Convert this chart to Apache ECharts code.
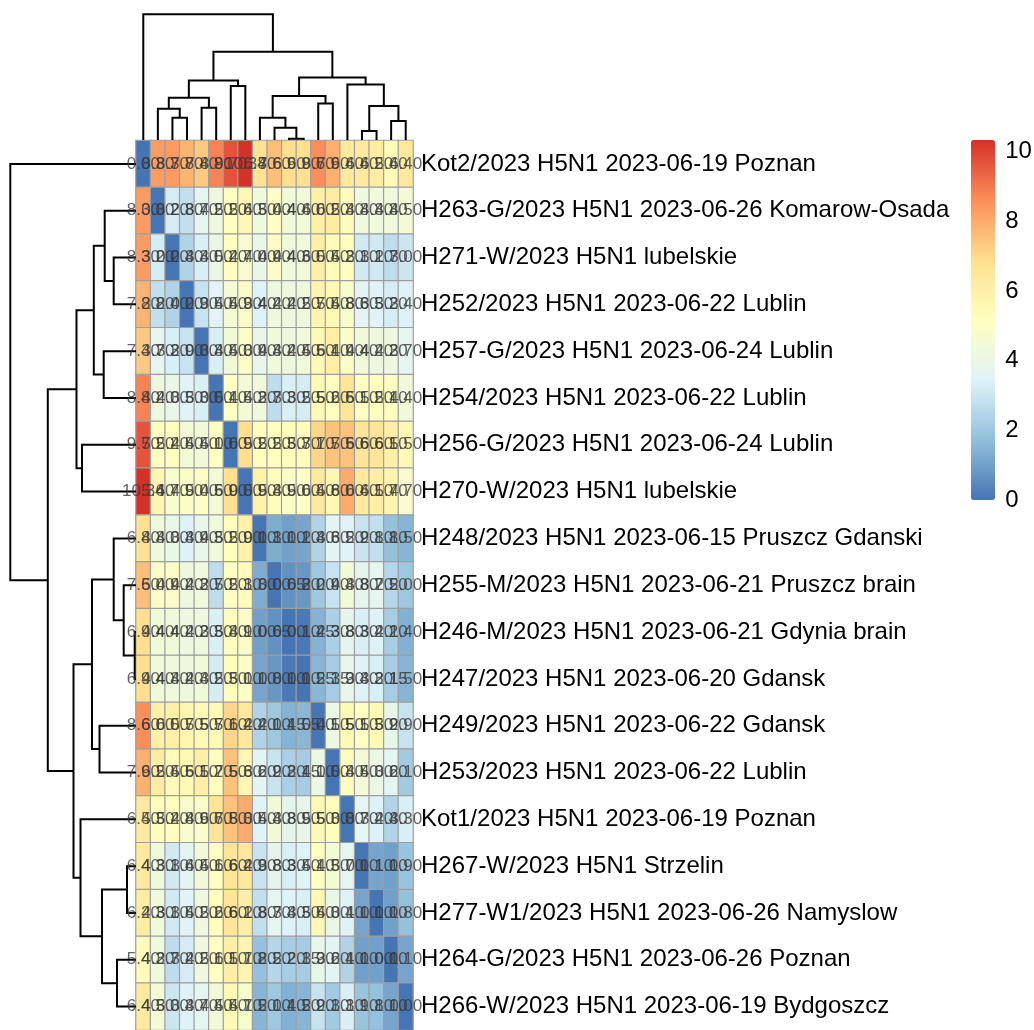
<!DOCTYPE html>
<html>
<head>
<meta charset="utf-8">
<script src="https://cdn.jsdelivr.net/npm/echarts@6/dist/echarts.min.js"></script>
<style>
  body { margin: 0; background: #fff; }
  #main { width: 1034px; height: 1030px; }
</style>
</head>
<body>
<div id="main"></div>
<script>
// samples, in the clustered display order (rows and columns use the same order)
var sampleNames = [
  "Kot2/2023 H5N1 2023-06-19 Poznan",
  "H263-G/2023 H5N1 2023-06-26 Komarow-Osada",
  "H271-W/2023 H5N1 lubelskie",
  "H252/2023 H5N1 2023-06-22 Lublin",
  "H257-G/2023 H5N1 2023-06-24 Lublin",
  "H254/2023 H5N1 2023-06-22 Lublin",
  "H256-G/2023 H5N1 2023-06-24 Lublin",
  "H270-W/2023 H5N1 lubelskie",
  "H248/2023 H5N1 2023-06-15 Pruszcz Gdanski",
  "H255-M/2023 H5N1 2023-06-21 Pruszcz brain",
  "H246-M/2023 H5N1 2023-06-21 Gdynia brain",
  "H247/2023 H5N1 2023-06-20 Gdansk",
  "H249/2023 H5N1 2023-06-22 Gdansk",
  "H253/2023 H5N1 2023-06-22 Lublin",
  "Kot1/2023 H5N1 2023-06-19 Poznan",
  "H267-W/2023 H5N1 Strzelin",
  "H277-W1/2023 H5N1 2023-06-26 Namyslow",
  "H264-G/2023 H5N1 2023-06-26 Poznan",
  "H266-W/2023 H5N1 2023-06-19 Bydgoszcz"
];

// distance matrix, upper triangle: row i holds distances to samples i+1 .. 18
var distUpper = [
  [8.3, 8.3, 7.8, 7.4, 8.8, 9.7, 10.34, 6.8, 7.6, 6.9, 6.9, 8.6, 7.9, 6.4, 6.4, 6.2, 5.4, 6.4],
  [3.2, 2.8, 3.7, 4.2, 5.2, 5.6, 4.3, 5.0, 4.4, 4.4, 6.0, 6.2, 5.3, 4.3, 4.3, 4.3, 4.5],
  [2.4, 3.3, 4.0, 5.2, 4.7, 4.0, 4.9, 4.4, 4.3, 6.0, 5.4, 5.2, 3.1, 3.1, 2.7, 3.0],
  [2.9, 3.5, 4.5, 4.9, 3.4, 4.2, 4.2, 4.2, 5.7, 5.5, 4.8, 3.6, 3.5, 3.2, 3.4],
  [3.3, 4.4, 5.0, 3.9, 4.3, 4.2, 4.4, 5.5, 6.1, 4.9, 4.4, 4.2, 4.2, 3.7],
  [5.1, 4.5, 4.3, 2.7, 3.3, 3.2, 5.5, 5.2, 6.6, 5.1, 5.2, 5.1, 4.4],
  [6.9, 5.2, 5.2, 5.3, 5.3, 7.1, 7.5, 7.5, 6.6, 6.6, 6.1, 5.5],
  [5.9, 5.3, 4.9, 5.0, 6.4, 5.6, 8.0, 6.4, 6.1, 5.7, 4.7],
  [1.3, 1.0, 1.1, 2.4, 3.6, 3.5, 2.9, 2.8, 1.8, 1.5],
  [0.65, 0.8, 2.0, 2.9, 4.4, 3.8, 3.7, 2.5, 2.0],
  [0.1, 1.45, 2.3, 3.8, 3.3, 3.4, 2.2, 1.4],
  [1.55, 2.15, 3.9, 3.4, 3.3, 2.15, 1.5],
  [4.1, 5.5, 5.1, 5.5, 3.9, 2.9],
  [5.3, 4.5, 4.0, 3.6, 2.1],
  [3.7, 3.4, 2.4, 3.3],
  [1.1, 1.0, 1.9],
  [1.0, 1.8],
  [1.1]
];

// hclust-style tree (same for rows and columns): negative = leaf -(index+1), positive = merge number
var treeMerge = [
  [-11, -12], [-10, 1], [-9, 2], [-3, -4], [-16, -17], [-18, -19],
  [-2, 4], [-5, -6], [5, 6], [-13, -14], [7, 8], [3, 10],
  [-7, -8], [-15, 9], [11, 13], [12, 14], [15, 16], [-1, 17]
];
var treeHeight = [
  1.3, 12.3, 22.3, 22.3, 9, 19,
  31.3, 32.3, 34, 36.5, 42.2, 44,
  54, 55.5, 59.5, 62.5, 88.2, 125.7
];

var legendMax = 10.34;
var palette = ["#4575B4", "#91BFDB", "#E0F3F8", "#FFFFBF", "#FEE090", "#FC8D59", "#D73027"];

var n = sampleNames.length;
var dist = [];
for (var i = 0; i < n; i++) {
  dist.push([]);
  for (var j = 0; j < n; j++) dist[i].push(0);
}
distUpper.forEach(function (row, i) {
  row.forEach(function (v, k) {
    var j = i + 1 + k;
    dist[i][j] = v;
    dist[j][i] = v;
  });
});
var cells = [];
for (var r = 0; r < n; r++) {
  for (var c = 0; c < n; c++) cells.push([c, r, dist[r][c]]);
}

// U-shaped links of the tree; leaf axis position + merge height
function treeLinks(heightOnY) {
  var pos = [], hgt = [], links = [];
  function nodePos(id) { return id < 0 ? -id - 1 : pos[id - 1]; }
  function nodeH(id) { return id < 0 ? 0 : hgt[id - 1]; }
  treeMerge.forEach(function (m, k) {
    var a = m[0], b = m[1], h = treeHeight[k];
    var pa = nodePos(a), pb = nodePos(b);
    var pts = [[pa, nodeH(a)], [pa, h], [pb, h], [pb, nodeH(b)]];
    pos.push((pa + pb) / 2);
    hgt.push(h);
    links.push({
      coords: heightOnY ? pts : pts.map(function (p) { return [p[1], p[0]]; })
    });
  });
  return links;
}

var font = "Liberation Sans";
var chart = echarts.init(document.getElementById("main"));
var lineStyle = { color: "#000", width: 2, opacity: 1 };

chart.setOption({
  backgroundColor: "#fff",
  animation: false,
  grid: [
    { left: 136, top: 140.5, width: 277, height: 893 },
    { left: 136, top: 14, width: 277, height: 126 },
    { left: 10, top: 140.5, width: 126, height: 893 },
    { left: 994, top: 140, width: 1, height: 360 }
  ],
  xAxis: [
    { gridIndex: 0, type: "category", data: sampleNames, show: false },
    { gridIndex: 1, type: "value", min: -0.5, max: n - 0.5, show: false },
    { gridIndex: 2, type: "value", min: 0, max: 126, inverse: true, show: false },
    { gridIndex: 3, type: "value", min: 0, max: 1, show: false }
  ],
  yAxis: [
    {
      gridIndex: 0, type: "category", data: sampleNames, inverse: true, position: "right",
      axisLine: { show: false }, axisTick: { show: false }, splitLine: { show: false },
      axisLabel: { interval: 0, margin: 8, fontSize: 24, color: "#000", fontFamily: font }
    },
    { gridIndex: 1, type: "value", min: 0, max: 126, show: false },
    { gridIndex: 2, type: "value", min: -0.5, max: n - 0.5, inverse: true, show: false },
    {
      gridIndex: 3, type: "value", min: 0, max: legendMax, interval: 2, position: "right",
      axisLine: { show: false }, axisTick: { show: false }, splitLine: { show: false },
      axisLabel: { margin: 11, fontSize: 24, color: "#000", fontFamily: font, showMaxLabel: false }
    }
  ],
  visualMap: {
    type: "continuous",
    seriesIndex: 0,
    min: 0,
    max: legendMax,
    calculable: false,
    left: 971,
    top: 140,
    padding: 0,
    itemWidth: 24,
    itemHeight: 360,
    inRange: { color: palette }
  },
  series: [
    {
      type: "heatmap",
      xAxisIndex: 0,
      yAxisIndex: 0,
      data: cells,
      itemStyle: { borderColor: "#9E9E9E", borderWidth: 1.2 },
      emphasis: { disabled: true }
    },
    {
      // cell numbers
      type: "scatter",
      xAxisIndex: 0,
      yAxisIndex: 0,
      data: cells,
      symbolSize: 0,
      silent: true,
      label: {
        show: true,
        position: "inside",
        fontSize: 17,
        color: "#3A3A3A",
        fontFamily: font,
        formatter: function (p) { return p.value[2].toFixed(2); }
      }
    },
    {
      type: "lines", coordinateSystem: "cartesian2d", xAxisIndex: 1, yAxisIndex: 1,
      polyline: true, silent: true, data: treeLinks(true), lineStyle: lineStyle
    },
    {
      type: "lines", coordinateSystem: "cartesian2d", xAxisIndex: 2, yAxisIndex: 2,
      polyline: true, silent: true, data: treeLinks(false), lineStyle: lineStyle
    },
    { type: "scatter", xAxisIndex: 3, yAxisIndex: 3, data: [], silent: true }
  ]
});
</script>
</body>
</html>
